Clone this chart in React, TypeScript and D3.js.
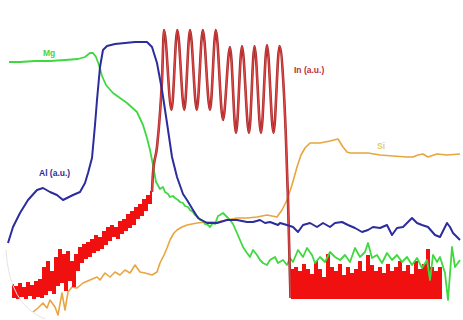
import * as d3 from "d3"

// depth (a.u.) vs intensity (a.u.)
const mgProfile: [number, number][] = [
  [9, 258], [20, 258], [35, 259], [50, 259], [65, 260], [78, 261], [85, 263], [90, 267], [93, 267],
  [96, 263], [99, 255], [102, 244], [106, 235], [113, 227], [120, 222], [127, 217], [137, 208],
  [143, 195], [147, 182], [150, 170], [153, 155], [156, 138], [160, 131], [163, 133], [165, 128],
  [168, 126], [170, 123], [173, 124], [175, 122], [178, 120], [180, 118], [183, 117], [185, 114],
  [188, 113], [190, 110], [193, 108], [195, 105], [198, 103], [200, 100], [203, 99], [205, 96],
  [208, 95], [210, 93], [213, 97], [215, 96], [218, 104], [220, 105], [223, 107], [226, 104],
  [230, 100], [233, 96], [237, 87], [240, 80], [243, 73], [247, 67], [250, 63], [253, 70],
  [257, 65], [260, 60], [263, 57], [267, 55], [270, 60], [275, 63], [278, 57], [283, 60],
  [287, 55], [290, 62], [293, 58], [298, 70], [303, 63], [307, 72], [312, 65], [315, 57],
  [320, 63], [325, 58], [330, 68], [335, 63], [340, 60], [345, 65], [350, 58], [355, 72],
  [360, 63], [365, 68], [368, 77], [372, 62], [377, 65], [382, 57], [387, 67], [392, 60],
  [397, 65], [402, 58], [407, 63], [412, 55], [417, 62], [422, 52], [427, 60], [430, 40],
  [433, 65], [437, 58], [440, 63], [445, 47], [448, 20], [452, 73], [455, 53], [460, 60],
]

const alProfile: [number, number][] = [
  [8, 77], [13, 93], [20, 107], [28, 120], [37, 130], [43, 132], [50, 128], [57, 125], [63, 120],
  [67, 122], [73, 125], [80, 128], [85, 137], [88, 147], [92, 162], [95, 195], [97, 220],
  [100, 253], [103, 270], [107, 274], [115, 276], [125, 277], [135, 278], [147, 278], [152, 273],
  [157, 257], [162, 230], [167, 197], [172, 163], [177, 143], [183, 126], [187, 120], [193, 110],
  [198, 102], [207, 97], [217, 97], [227, 100], [237, 100], [247, 98], [253, 98], [260, 100],
  [265, 97], [270, 98], [278, 95], [280, 97], [287, 95], [293, 93], [298, 88], [303, 95],
  [310, 97], [317, 93], [323, 97], [330, 93], [335, 97], [342, 98], [348, 95], [355, 92],
  [362, 88], [368, 90], [373, 93], [380, 92], [387, 95], [392, 85], [397, 92], [403, 93],
  [408, 98], [412, 102], [417, 97], [422, 95], [428, 93], [435, 85], [440, 83], [447, 97],
  [450, 93], [453, 87], [460, 80],
]

const siProfile: [number, number][] = [
  [33, 8], [38, 12], [43, 17], [47, 12], [50, 20], [55, 13], [58, 5], [62, 27], [65, 10],
  [68, 28], [72, 33], [77, 32], [83, 37], [90, 40], [97, 43], [100, 40], [105, 47], [110, 43],
  [115, 48], [120, 45], [125, 50], [130, 47], [135, 55], [140, 48], [145, 47], [152, 45],
  [157, 48], [160, 57], [164, 65], [167, 72], [170, 80], [174, 87], [177, 90], [182, 93],
  [187, 95], [197, 97], [207, 98], [217, 98], [227, 100], [237, 102], [247, 102], [257, 103],
  [267, 105], [277, 103], [282, 110], [287, 120], [292, 135], [297, 153], [301, 165], [305, 172],
  [310, 177], [320, 177], [330, 179], [338, 181], [343, 173], [347, 168], [350, 167], [358, 167],
  [368, 167], [380, 165], [393, 164], [407, 163], [413, 163], [418, 165], [423, 166], [428, 163],
  [437, 166], [447, 165], [460, 166],
]

// In: noisy rise, superlattice oscillations, noisy floor
const inRise: [number, number][] = [
  [12, 35], [14, 23], [16, 33], [18, 22], [20, 36], [22, 24], [24, 32], [26, 22], [28, 37],
  [30, 25], [32, 34], [34, 22], [36, 38], [38, 24], [40, 40], [42, 23], [44, 52], [46, 26],
  [48, 58], [50, 30], [52, 48], [54, 27], [56, 62], [58, 35], [60, 70], [62, 38], [64, 65],
  [66, 30], [68, 68], [70, 40], [72, 58], [74, 34], [76, 65], [78, 50], [80, 72], [82, 58],
  [84, 75], [86, 62], [88, 77], [90, 64], [92, 80], [94, 68], [96, 84], [98, 70], [100, 82],
  [102, 72], [104, 88], [106, 76], [108, 92], [110, 80], [112, 94], [114, 84], [116, 92],
  [118, 82], [120, 98], [122, 87], [124, 100], [126, 90], [128, 105], [130, 93], [132, 108],
  [134, 96], [136, 112], [138, 102], [140, 115], [142, 105], [144, 120], [146, 110], [148, 124],
  [150, 117], [152, 128],
]

const inWells: [number, number][] = [
  [152, 128], [153, 147], [157, 173], [160, 207], [162, 240], [164, 290], [171.5, 210],
  [177.3, 290], [184.3, 210], [190, 290], [196.8, 210], [202.8, 290], [210, 210], [215.8, 290],
  [223, 200], [230, 273], [236, 187], [242, 274], [249, 187], [254.5, 274], [261, 187],
  [267, 275], [273.5, 187], [279.5, 274], [283.5, 235], [286, 180], [288, 120], [289.5, 60],
  [290.5, 22],
]

const inFloor: [number, number][] = [
  [290.5, 22], [292, 50], [294, 22], [296, 52], [298, 22], [300, 48], [302, 22], [304, 55],
  [306, 22], [308, 50], [310, 22], [312, 45], [314, 22], [316, 58], [318, 22], [320, 50],
  [322, 22], [324, 42], [326, 22], [328, 65], [330, 22], [332, 52], [334, 22], [336, 48],
  [338, 22], [340, 55], [342, 22], [344, 44], [346, 22], [348, 52], [350, 22], [352, 46],
  [354, 22], [356, 50], [358, 22], [360, 58], [362, 22], [364, 48], [366, 22], [368, 64],
  [370, 22], [372, 54], [374, 22], [376, 48], [378, 22], [380, 52], [382, 22], [384, 46],
  [386, 22], [388, 55], [390, 22], [392, 48], [394, 22], [396, 52], [398, 22], [400, 58],
  [402, 22], [404, 48], [406, 22], [408, 54], [410, 22], [412, 45], [414, 22], [416, 58],
  [418, 22], [420, 50], [422, 22], [424, 55], [426, 22], [428, 70], [430, 22], [432, 52],
  [434, 22], [436, 48], [438, 22], [440, 52], [442, 22],
]

const W = 463
const H = 320

export default function App() {
  const x = d3.scaleLinear().domain([0, 463]).range([0, W])
  const y = d3.scaleLinear().domain([0, 320]).range([H, 0])

  const smooth = d3.line<[number, number]>()
    .x(d => x(d[0]))
    .y(d => y(d[1]))
    .curve(d3.curveMonotoneX)
  const plain = d3.line<[number, number]>()
    .x(d => x(d[0]))
    .y(d => y(d[1]))
  const stepped = d3.line<[number, number]>()
    .x(d => x(d[0]))
    .y(d => y(d[1]))
    .curve(d3.curveStep)

  return (
    <svg width={W} height={H} style={{ position: "absolute", left: 0, top: 0, background: "#fff" }}>
      <path d={plain(siProfile) || ""} fill="none" stroke="#e8a540" strokeWidth={1.6} strokeLinejoin="round" />
      <path d={stepped(inRise) || ""} fill="none" stroke="#f01010" strokeWidth={1.6} shapeRendering="crispEdges" />
      <path d={stepped(inFloor) || ""} fill="none" stroke="#f01010" strokeWidth={1.6} shapeRendering="crispEdges" />
      <path d={plain(mgProfile) || ""} fill="none" stroke="#3fd83f" strokeWidth={1.8} strokeLinejoin="round" />
      <path d={smooth(inWells) || ""} fill="none" stroke="#a82828" strokeWidth={2.6} />
      <path d={smooth(inWells) || ""} fill="none" stroke="#e04848" strokeWidth={1.2} />
      <path d={plain(alProfile) || ""} fill="none" stroke="#2c2c9c" strokeWidth={2} strokeLinejoin="round" />

      <path d="M6,250 Q9,305 45,319" fill="none" stroke="#e4e4e4" strokeWidth={1} />

      <g fontFamily="Liberation Sans, Arial, sans-serif" fontWeight="bold" fontSize={8.5}>
        <text x={43} y={56} fill="#3fd83f">Mg</text>
        <text x={39} y={176} fill="#2c2c9c">Al (a.u.)</text>
        <text x={294} y={73} fill="#b83040">In (a.u.)</text>
        <text x={377} y={149} fill="#e0cf5a">Si</text>
      </g>
    </svg>
  )
}
